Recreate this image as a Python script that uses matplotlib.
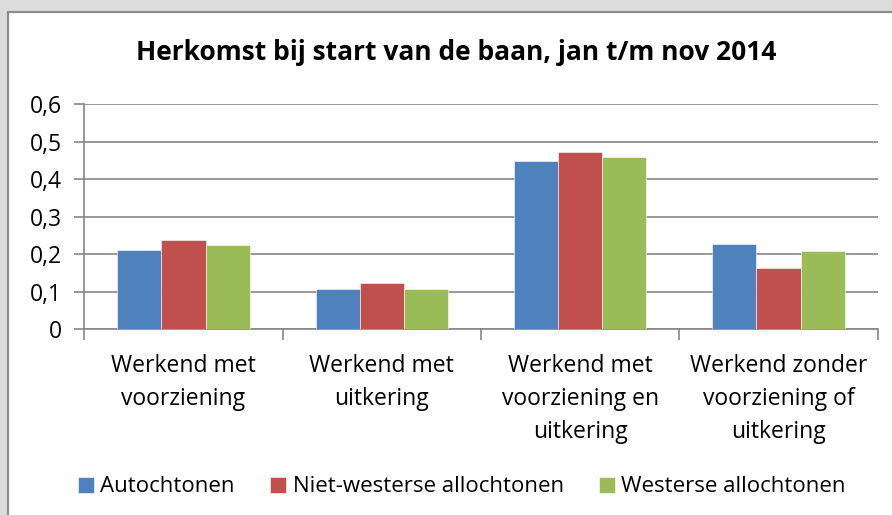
import matplotlib
matplotlib.use('Agg')
import matplotlib.pyplot as plt
from matplotlib.patches import Rectangle
import numpy as np

# data
categories = ['Werkend met\nvoorziening', 'Werkend met\nuitkering',
              'Werkend met\nvoorziening en\nuitkering',
              'Werkend zonder\nvoorziening of\nuitkering']
series = ['Autochtonen', 'Niet-westerse allochtonen', 'Westerse allochtonen']
autochtonen = [0.212, 0.108, 0.450, 0.228]
niet_westers = [0.237, 0.123, 0.472, 0.164]
westers = [0.224, 0.107, 0.459, 0.208]
yticks = [0, 0.1, 0.2, 0.3, 0.4, 0.5, 0.6]
ytick_labels = ['0', '0,1', '0,2', '0,3', '0,4', '0,5', '0,6']

colors = ['#4F81BD', '#C0504D', '#9BBB59']
font = 'Open Sans'
plt.rcParams['font.family'] = [font, 'DejaVu Sans']

W, H = 892, 515
fig = plt.figure(figsize=(W / 100, H / 100), dpi=100, facecolor='#DCDCDC')

# white chart area with grey border (continues past right/bottom edge)
fig.patches.append(Rectangle((8 / W, -0.1), 1.1, (H - 12) / H + 0.1,
                             transform=fig.transFigure, facecolor='white',
                             edgecolor='#8C8C8C', linewidth=1.6, zorder=-5))

left, right, top, bottom = 84.3, 877.7, 104.3, 329.3
ax = fig.add_axes([left / W, (H - bottom) / H, (right - left) / W, (bottom - top) / H])
ax.set_facecolor('none')

x = np.arange(len(categories))
bw = 1 / 4.5
for i, vals in enumerate([autochtonen, niet_westers, westers]):
    ax.bar(x + (i - 1) * bw, vals, bw, color=colors[i], label=series[i],
           edgecolor='white', linewidth=0.4, zorder=3)

ax.set_xlim(-0.5, len(categories) - 0.5)
ax.set_ylim(0, 0.6)
ax.set_yticks(yticks)
ax.set_yticklabels(ytick_labels, fontsize=16.5)
ax.yaxis.grid(True, color='#868686', linewidth=1.2, zorder=0)
ax.set_axisbelow(True)

for s in ['top', 'right']:
    ax.spines[s].set_visible(False)
for s in ['left', 'bottom']:
    ax.spines[s].set_color('#868686')
    ax.spines[s].set_linewidth(1.2)

ax.tick_params(axis='y', length=7, width=1.2, color='#868686', pad=9)
ax.set_xticks(np.arange(len(categories) + 1) - 0.5, minor=False)
ax.set_xticklabels([])
ax.tick_params(axis='x', length=8, width=1.2, color='#868686')
for xi, lab in zip(x, categories):
    ax.text(xi, -0.11, lab, ha='center', va='top', fontsize=16.5,
            linespacing=1.5, transform=ax.get_xaxis_transform())

fig.text(456 / W, 1 - 53 / H,
         'Herkomst bij start van de baan, jan t/m nov 2014',
         ha='center', va='center', fontsize=19, fontweight='bold')

leg = fig.legend(loc='center', bbox_to_anchor=(462 / W, 1 - 487 / H), ncol=3,
                 frameon=False, fontsize=16, handlelength=0.7, handleheight=0.7,
                 handletextpad=0.3, columnspacing=1.6)

fig.savefig('out.png', dpi=100, facecolor=fig.get_facecolor())
